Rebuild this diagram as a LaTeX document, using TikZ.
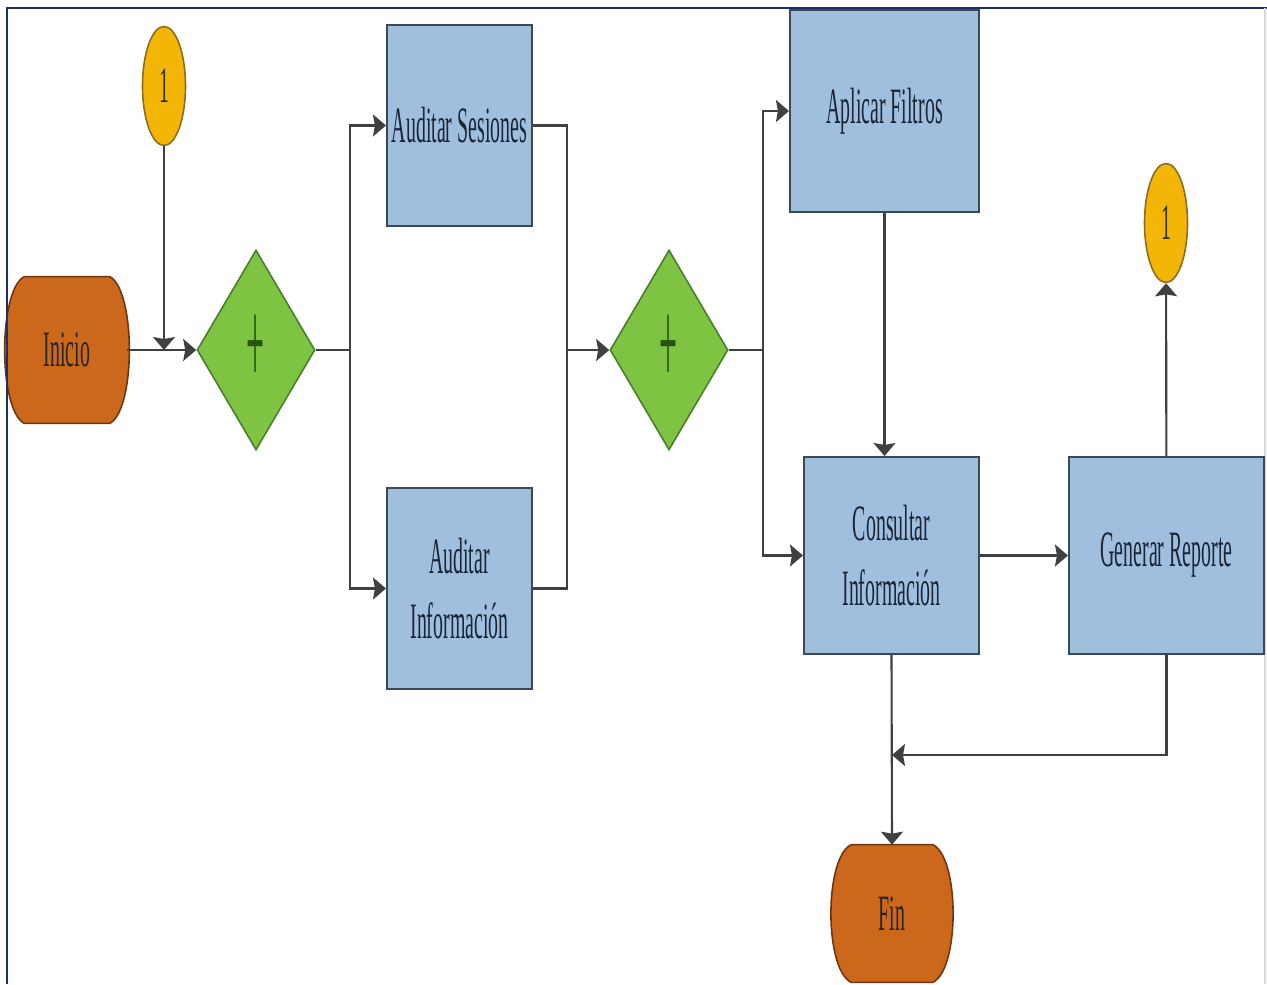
\documentclass[tikz,border=0pt]{standalone}
\usepackage{fontspec}
\setmainfont[FakeStretch=0.39]{Liberation Serif}
\newfontfamily\masfuente[FakeStretch=0.26]{Liberation Serif}
\usetikzlibrary{shapes.geometric,arrows.meta,backgrounds}
\definecolor{azulcaja}{RGB}{160,191,223}
\definecolor{bordecaja}{RGB}{58,72,88}
\definecolor{textocaja}{RGB}{26,38,56}
\definecolor{verdecompuerta}{RGB}{126,196,66}
\definecolor{bordeverde}{RGB}{74,126,44}
\definecolor{masverde}{RGB}{40,84,16}
\definecolor{naranjaterm}{RGB}{204,104,28}
\definecolor{bordenaranja}{RGB}{110,54,16}
\definecolor{amarilloconec}{RGB}{244,182,6}
\definecolor{bordeamarillo}{RGB}{140,108,30}
\definecolor{lineagris}{RGB}{64,64,64}
\definecolor{marcoazul}{RGB}{24,48,112}
\tikzset{
  caja/.style={rectangle,draw=bordecaja,line width=1.2pt,fill=azulcaja,text=textocaja,
    align=center,inner sep=0pt,font=\fontsize{29}{37}\selectfont},
  compuerta/.style={diamond,draw=bordeverde,line width=0.9pt,fill=verdecompuerta,text=masverde,
    inner sep=0pt,minimum width=2.36cm,minimum height=4cm,font=\masfuente\fontsize{70}{70}\selectfont},
  terminal/.style={rectangle,text=black!85,inner sep=0pt,minimum width=2.38cm,
    font=\fontsize{29}{37}\selectfont},
  barril/.style={draw=bordenaranja,line width=0.9pt,fill=naranjaterm},
  conector/.style={ellipse,draw=bordeamarillo,line width=0.9pt,fill=amarilloconec,text=black!80,
    inner sep=0pt,minimum width=0.86cm,minimum height=2.38cm,font=\fontsize{29}{37}\selectfont},
  flujo/.style={draw=lineagris,line width=1.2pt,-{Stealth[length=0.26cm,width=0.44cm,inset=0.04cm]}},
  linea/.style={draw=lineagris,line width=1.2pt}
}
\begin{document}
\begin{tikzpicture}[x=0.02cm,y=-0.02cm]
\useasboundingbox (0,0) rectangle (1267,984);
\begin{pgfonlayer}{background}
\fill[white] (0,0) rectangle (1267,984);
\end{pgfonlayer}
%marco
\draw[marcoazul,line width=1.7pt] (7,984)--(7,8)--(1267,8);
\draw[gray!30,line width=0.8pt] (1265,8)--(1265,984);

\node[terminal,minimum height=2.92cm] (ini) at (67,350) {Inicio};
\node[conector] (uno1) at (164,86) {1};
\node[compuerta] (and1) at (256,350) {+};
\node[caja,minimum width=2.9cm,minimum height=4.02cm] (ses) at (459.5,125.5) {Auditar Sesiones};
\node[caja,minimum width=2.9cm,minimum height=4.02cm] (inf) at (459.5,588.5) {Auditar\\Información};
\node[compuerta] (and2) at (669,350) {+};
\node[caja,minimum width=3.78cm,minimum height=4.04cm] (fil) at (884.5,111) {Aplicar Filtros};
\node[caja,minimum width=3.5cm,minimum height=3.94cm] (con) at (891.5,555.5) {Consultar\\Información};
\node[caja,minimum width=3.9cm,minimum height=3.94cm] (gen) at (1166.5,555.5) {Generar Reporte};
\node[conector] (uno2) at (1166,223) {1};
\node[terminal,minimum height=2.74cm] (fin) at (892,913.5) {Fin};

%bordes curvos de inicio y fin
\begin{pgfonlayer}{background}
\draw[barril] ([xshift=0.34cm]ini.north west) -- ([xshift=-0.34cm]ini.north east)
  .. controls +(26,14) and +(26,-14) .. ([xshift=-0.34cm]ini.south east)
  -- ([xshift=0.34cm]ini.south west) .. controls +(-26,-14) and +(-26,14) .. cycle;
\draw[barril] ([xshift=0.38cm]fin.north west) -- ([xshift=-0.38cm]fin.north east)
  .. controls +(27,13) and +(27,-13) .. ([xshift=-0.38cm]fin.south east)
  -- ([xshift=0.38cm]fin.south west) .. controls +(-27,-13) and +(-27,13) .. cycle;
\end{pgfonlayer}

\coordinate (junta) at (164,350);
\coordinate (rama1) at (350,350);
\coordinate (une1) at (567,350);
\coordinate (rama2) at (763,350);
\coordinate (cruce) at (892,755);

\draw[flujo] (ini) -- (and1);
\draw[flujo] (uno1) -- (junta);
\draw[linea] (and1) -- (rama1);
\draw[flujo] (rama1) |- (ses.west);
\draw[flujo] (rama1) |- (inf.west);
\draw[linea] (ses.east) -| (une1);
\draw[linea] (inf.east) -| (une1);
\draw[flujo] (une1) -- (and2);
\draw[linea] (and2) -- (rama2);
\draw[flujo] (rama2) |- (fil.west);
\draw[flujo] (rama2) |- (con.west);
\draw[flujo] (fil.south) -- (fil.south |- con.north);
\draw[flujo] (con) -- (gen);
\draw[flujo] (gen) -- (uno2);
\draw[flujo] (con.south) -- (fin.north);
\draw[flujo] (gen.south) |- (cruce);
\end{tikzpicture}
\end{document}
